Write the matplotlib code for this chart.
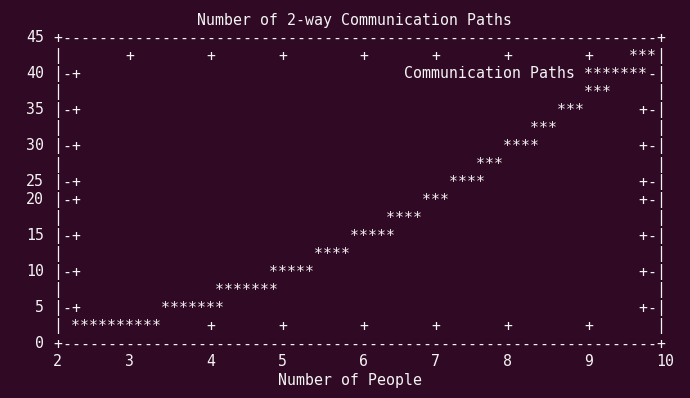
#
# Redraw a gnuplot "dumb" terminal plot: everything sits on a character grid,
# the curve is rasterised to '*' cells the way the dumb terminal does it.
#

import numpy as np
import matplotlib
matplotlib.use('Agg')
import matplotlib.pyplot as plt
from matplotlib.transforms import offset_copy

people = [2, 3, 4, 5, 6, 7, 8, 9, 10]
paths = [1, 3, 6, 10, 15, 21, 28, 36, 45]

x_ticks = [2, 3, 4, 5, 6, 7, 8, 9, 10]
y_ticks = [0, 5, 10, 15, 20, 25, 30, 35, 40, 45]

title = 'Number of 2-way Communication Paths'
x_label = 'Number of People'
series_label = 'Communication Paths'

BG = '#300a24'
FG = '#f4f4f4'
FONT = 'DejaVu Sans Mono'

COLS, ROWS = 67, 17      # plot box in character cells
CELL_W, CELL_H = 9, 18   # pixels per cell
SAMPLES = 100            # gnuplot default sampling
X_LO, X_HI = 2, 10
Y_LO, Y_HI = 0, 45


def col(x):
    return int((x - X_LO) * COLS / (X_HI - X_LO) + 0.5)


def row(y):
    return int((y - Y_LO) * ROWS / (Y_HI - Y_LO) + 0.5)


def cx(c):
    return X_LO + c * (X_HI - X_LO) / COLS


def ry(r):
    return Y_LO + r * (Y_HI - Y_LO) / ROWS


def smooth(xp, yp, xs):
    # cubic hermite through the points, slopes from finite differences
    xp = np.asarray(xp, float)
    yp = np.asarray(yp, float)
    m = np.gradient(yp, xp, edge_order=2)
    i = np.clip(np.searchsorted(xp, xs, side='right') - 1, 0, len(xp) - 2)
    h = xp[i + 1] - xp[i]
    t = (xs - xp[i]) / h
    h00 = 2 * t**3 - 3 * t**2 + 1
    h10 = t**3 - 2 * t**2 + t
    h01 = -2 * t**3 + 3 * t**2
    h11 = t**3 - t**2
    return h00 * yp[i] + h10 * h * m[i] + h01 * yp[i + 1] + h11 * h * m[i + 1]


grid = {}


def put(c, r, ch):
    grid[(c, r)] = ch


def sign(v):
    return (v > 0) - (v < 0)


def vector(c0, r0, c1, r1, pen, pen1=None):
    # same stepping as the dumb terminal's line routine
    pen1 = pen1 or pen
    dc, dr = c1 - c0, r1 - r0
    if abs(dr) > abs(dc):
        put(c0, r0, pen1)
        for d in range(1, abs(dr)):
            put(c0 + int(dc * d / abs(dr) + 0.5), r0 + d * sign(dr), pen)
        put(c1, r1, pen1)
    elif abs(dc) > abs(dr):
        put(c0, r0, pen1)
        for d in range(1, abs(dc)):
            put(c0 + d * sign(dc), r0 + int(dr * d / abs(dc) + 0.5), pen)
        put(c1, r1, pen1)
    else:
        for d in range(abs(dc) + 1):
            put(c0 + d * sign(dc), r0 + d * sign(dr), pen1)


# tics, inside and mirrored
for v in y_ticks:
    r = row(v)
    vector(0, r, 2, r, '-', '+')
    vector(COLS, r, COLS - 2, r, '-', '+')
for v in x_ticks:
    c = col(v)
    vector(c, 0, c, 1, '|', '+')
    vector(c, ROWS, c, ROWS - 1, '|', '+')

# the curve
xs = np.linspace(X_LO, X_HI, SAMPLES)
ys = smooth(people, paths, xs)
cells = [(col(x), row(y)) for x, y in zip(xs, ys)]
for (c0, r0), (c1, r1) in zip(cells[:-1], cells[1:]):
    vector(c0, r0, c1, r1, '*')

# key sample
key_row = ROWS - 2
vector(COLS - 8, key_row, COLS - 2, key_row, '*')

# border on top
vector(0, 0, COLS, 0, '-', '+')
vector(COLS, 0, COLS, ROWS, '|', '+')
vector(COLS, ROWS, 0, ROWS, '-', '+')
vector(0, ROWS, 0, 0, '|', '+')


fig = plt.figure(figsize=(6.9, 3.98), dpi=100, facecolor=BG)
W, H = 690, 398
left_px, bottom_px = 57.5, 55
ax = fig.add_axes([left_px / W, bottom_px / H,
                   COLS * CELL_W / W, ROWS * CELL_H / H])
ax.set_xlim(X_LO, X_HI)
ax.set_ylim(Y_LO, Y_HI)
ax.axis('off')

trans = offset_copy(ax.transData, fig=fig, x=0, y=-5.5, units='dots')
fsize = CELL_W / 0.602 * 72 / 100


def write(c, r, s):
    # s occupies cells c .. c+len(s)-1
    ax.text(cx(c + (len(s) - 1) / 2), ry(r), s, transform=trans,
            ha='center', va='baseline', family=FONT, fontsize=fsize,
            color=FG, clip_on=False)


for (c, r), ch in grid.items():
    write(c, r, ch)

for v in y_ticks:
    s = str(v)
    write(-1 - len(s), row(v), s)
for v in x_ticks:
    s = str(v)
    write(col(v) - (len(s) - 1) // 2, -1, s)

mid = COLS // 2
write(mid - len(title) // 2, ROWS + 1, title)
write(mid - len(x_label) // 2, -2, x_label)
write(COLS - 9 - len(series_label), key_row, series_label)

fig.savefig('out.png', dpi=100, facecolor=BG)
